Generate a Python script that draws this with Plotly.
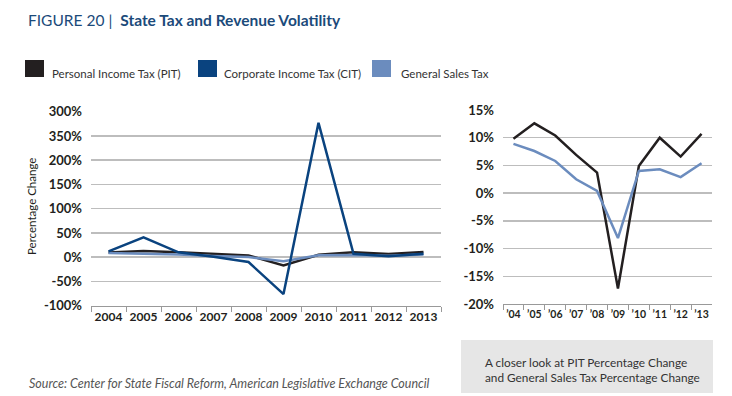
import plotly.graph_objects as go

W, H = 732, 396

years = ["2004", "2005", "2006", "2007", "2008", "2009", "2010", "2011", "2012", "2013"]
years_short = ["’04", "’05", "’06", "’07", "’08", "’09", "’10", "’11", "’12", "’13"]

pit = [9.8, 12.6, 10.4, 6.9, 3.7, -17.2, 4.9, 10.0, 6.6, 10.7]
cit = [12, 41, 10, 1, -10, -76, 277, 7, 2, 7]
sales = [8.9, 7.6, 5.8, 2.5, 0.4, -8.1, 4.0, 4.3, 2.9, 5.4]

left_ticks = [-100, -50, 0, 50, 100, 150, 200, 250, 300]
left_ticktext = ["-100%", "-50%", "0%", "50%", "100%", "150%", "200%", "350%", "300%"]
right_ticks = [-20, -15, -10, -5, 0, 5, 10, 15]
right_ticktext = ["-20%", "-15%", "-10%", "-5%", "0%", "5%", "10%", "15%"]

C_PIT = "#231F20"
C_CIT = "#0A437F"
C_SALES = "#6B8CBE"
GRID = "#BDBDBD"
TXT = "#231F20"
FONT = "Lato"


def px(x):
    return x / W


def py(y):
    return 1 - y / H


fig = go.Figure()

for name, vals, col in [("Personal Income Tax (PIT)", pit, C_PIT),
                        ("General Sales Tax", sales, C_SALES),
                        ("Corporate Income Tax (CIT)", cit, C_CIT)]:
    fig.add_trace(go.Scatter(x=years, y=vals, mode="lines", name=name,
                             line=dict(color=col, width=2.5), showlegend=False,
                             xaxis="x", yaxis="y"))

for name, vals, col in [("Personal Income Tax (PIT)", pit, C_PIT),
                        ("General Sales Tax", sales, C_SALES)]:
    fig.add_trace(go.Scatter(x=years_short, y=vals, mode="lines", name=name,
                             line=dict(color=col, width=2.5), showlegend=False,
                             xaxis="x2", yaxis="y2"))

xax = dict(type="category", tickson="boundaries", ticks="outside", ticklen=5,
           tickcolor="#999999", showline=True, linecolor="#999999", linewidth=1,
           showgrid=False, zeroline=False, range=[-0.5, 9.5], fixedrange=True,
           tickangle=0, automargin=False)

fig.update_layout(
    width=W, height=H, margin=dict(l=0, r=0, t=0, b=0, pad=0, autoexpand=False),
    paper_bgcolor="white", plot_bgcolor="white",
    font=dict(family=FONT, color=TXT),
    xaxis=dict(xax, domain=[px(91), px(441)], anchor="y",
               tickfont=dict(family=FONT, size=12, color=TXT, weight="bold")),
    yaxis=dict(domain=[py(305.7), py(111.7)], range=[-100, 300], tickvals=left_ticks,
               ticktext=left_ticktext, showgrid=True, gridcolor=GRID, gridwidth=1.5,
               zeroline=False, ticks="", ticklabelstandoff=8, anchor="x",
               fixedrange=True, automargin=False,
               tickfont=dict(family=FONT, size=13, color=TXT, weight="bold")),
    xaxis2=dict(xax, domain=[px(503), px(712)], anchor="y2",
                tickfont=dict(family=FONT, size=10.5, color=TXT, weight="bold")),
    yaxis2=dict(domain=[py(304), py(110)], range=[-20, 15], tickvals=right_ticks,
                ticktext=right_ticktext, showgrid=True, gridcolor=GRID, gridwidth=1.5,
                zeroline=False, ticks="", ticklabelstandoff=8, anchor="x2",
                fixedrange=True, automargin=False,
                tickfont=dict(family=FONT, size=13, color=TXT, weight="bold")),
)

shapes = []
annotations = []

# Title
annotations.append(dict(x=px(26), y=py(20), xref="paper", yref="paper", xanchor="left",
                        yanchor="middle", showarrow=False,
                        text="FIGURE 20 |  <b>State Tax and Revenue Volatility</b>",
                        font=dict(family=FONT, size=15.5, color="#1B4A7A")))

# Legend
legend_items = [("Personal Income Tax (PIT)", C_PIT, 25, 50),
                ("Corporate Income Tax (CIT)", C_CIT, 198, 222),
                ("General Sales Tax", C_SALES, 372, 399)]
for label, col, sx, tx in legend_items:
    shapes.append(dict(type="rect", xref="paper", yref="paper", x0=px(sx), x1=px(sx + 19),
                       y0=py(77), y1=py(60), fillcolor=col, line=dict(width=0)))
    annotations.append(dict(x=px(tx), y=py(73), xref="paper", yref="paper", xanchor="left",
                            yanchor="middle", showarrow=False, text=label,
                            font=dict(family=FONT, size=11.5, color="#333333")))

# Y axis title
annotations.append(dict(x=px(31), y=py(207), xref="paper", yref="paper", xanchor="center",
                        yanchor="middle", showarrow=False, text="Percentage Change",
                        textangle=-90, font=dict(family=FONT, size=11.5, color=TXT)))

# Gray box
shapes.append(dict(type="rect", xref="paper", yref="paper", x0=px(461), x1=px(713),
                   y0=py(393), y1=py(340), fillcolor="#E6E6E6", line=dict(width=0),
                   layer="below"))
annotations.append(dict(x=px(483), y=py(370), xref="paper", yref="paper", xanchor="left",
                        yanchor="middle", showarrow=False, align="left",
                        text="A closer look at PIT Percentage Change<br>and General Sales Tax Percentage Change",
                        font=dict(family=FONT, size=11.8, color="#333333")))

# Source
annotations.append(dict(x=px(27), y=py(383), xref="paper", yref="paper", xanchor="left",
                        yanchor="middle", showarrow=False,
                        text="<i>Source: Center for State Fiscal Reform, American Legislative Exchange Council</i>",
                        font=dict(family=FONT, size=12.5, color="#555555")))

fig.update_layout(shapes=shapes, annotations=annotations)

fig.write_html("out.html", config={"displayModeBar": False, "staticPlot": True},
               post_script="document.body.style.margin='0';document.body.style.overflow='hidden';")
